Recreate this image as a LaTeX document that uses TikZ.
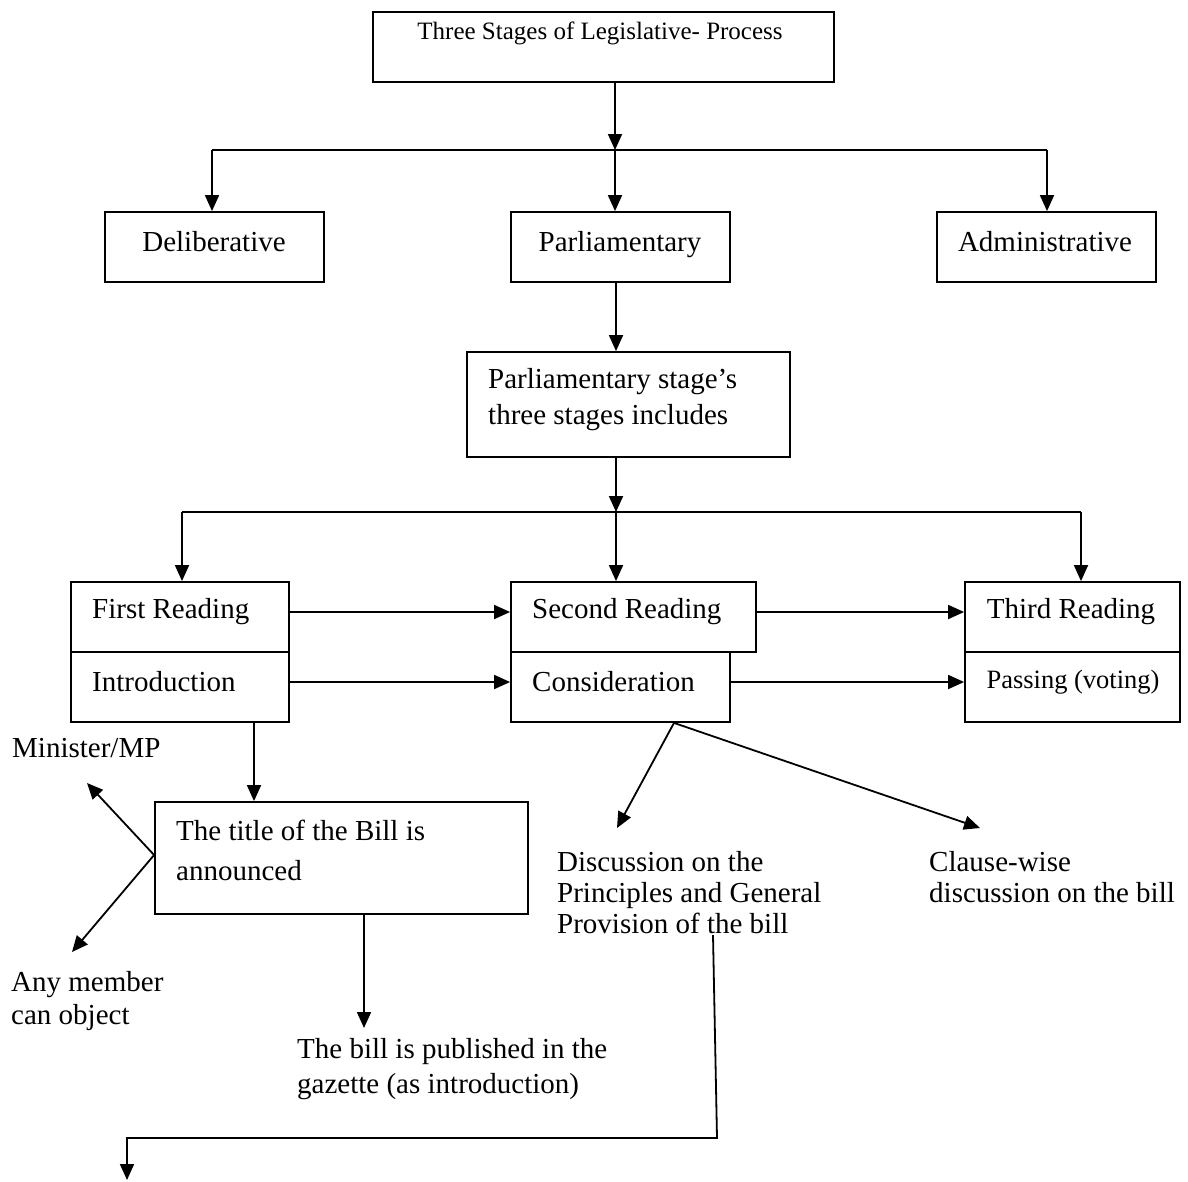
\documentclass[tikz,border=0pt]{standalone}
\usepackage{fontspec}
\setmainfont{Liberation Serif}
\usetikzlibrary{arrows.meta}
\begin{document}
\begin{tikzpicture}[x=1pt,y=-1pt,
  box/.style={draw,line width=1.8pt,inner sep=0pt},
  txt/.style={inner sep=0pt,font=\fontsize{29}{34}\selectfont,align=left},
  ln/.style={line width=1.8pt},
  arr/.style={line width=1.8pt,-{Triangle[length=16pt,width=14pt]}}]
\useasboundingbox (0,0) rectangle (1188,1181);
% top
\node[box,minimum width=461pt,minimum height=70pt] (title) at (603.5,47) {};
\node[txt,font=\fontsize{25}{30}\selectfont] (titletxt) at (600,33) {Three Stages of Legislative- Process};
\coordinate (h1m) at (615,150);
\coordinate (h1l) at (212,150);
\coordinate (h1r) at (1047,150);
\node[box,minimum width=219pt,minimum height=70pt] (del) at (214.5,247) {};
\node[txt] (deltxt) at (214,242) {Deliberative};
\node[box,minimum width=219pt,minimum height=70pt] (parl) at (620.5,247) {};
\node[txt] (parltxt) at (620,245) {Parliamentary};
\node[box,minimum width=219pt,minimum height=70pt] (adm) at (1046.5,247) {};
\node[txt] (admtxt) at (1045,242) {Administrative};
\draw[arr] (title.south -| h1m) -- (h1m);
\draw[ln] (h1l) -- (h1r);
\draw[arr] (h1l) -- (h1l |- del.north);
\draw[arr] (h1m) -- (h1m |- parl.north);
\draw[arr] (h1r) -- (h1r |- adm.north);
% parliamentary stage box
\node[box,minimum width=323pt,minimum height=105pt] (ps) at (628.5,404.5) {};
\node[txt,font=\fontsize{29}{36}\selectfont,anchor=west] (pstxt) at (488,400) {Parliamentary stage’s\\three stages includes};
\coordinate (h2m) at (616,512);
\coordinate (h2l) at (182,512);
\coordinate (h2r) at (1081,512);
\draw[arr] (parl.south -| h2m) -- (ps.north -| h2m);
\draw[arr] (ps.south -| h2m) -- (h2m);
\draw[ln] (h2l) -- (h2r);
% reading boxes
\node[box,minimum width=218pt,minimum height=70pt] (fr) at (180,617) {};
\node[box,minimum width=218pt,minimum height=70pt] (intro) at (180,687) {};
\node[box,minimum width=245pt,minimum height=70pt] (sr) at (633.5,617) {};
\node[box,minimum width=219pt,minimum height=70pt] (cons) at (620.5,687) {};
\node[box,minimum width=215pt,minimum height=70pt] (tr) at (1072.5,617) {};
\node[box,minimum width=215pt,minimum height=70pt] (pass) at (1072.5,687) {};
\node[txt,anchor=west] (frtxt) at (92,612) {First Reading};
\node[txt,anchor=west] (introtxt) at (92,682) {Introduction};
\node[txt,anchor=west] (srtxt) at (532,612) {Second Reading};
\node[txt,anchor=west] (constxt) at (532,682) {Consideration};
\node[txt] (trtxt) at (1071,612) {Third Reading};
\node[txt,font=\fontsize{26.5}{31}\selectfont] (passtxt) at (1073,682) {Passing (voting)};
\draw[arr] (h2l) -- (h2l |- fr.north);
\draw[arr] (h2m) -- (h2m |- sr.north);
\draw[arr] (h2r) -- (h2r |- tr.north);
\draw[arr] ([yshift=5pt]fr.east) -- ([yshift=5pt]fr.east -| sr.west);
\draw[arr] ([yshift=5pt]intro.east) -- ([yshift=5pt]intro.east -| cons.west);
\draw[arr] ([yshift=5pt]sr.east) -- ([yshift=5pt]sr.east -| tr.west);
\draw[arr] ([yshift=5pt]cons.east) -- ([yshift=5pt]cons.east -| pass.west);
% introduction branch
\node[box,minimum width=373pt,minimum height=112pt] (tb) at (341.5,858) {};
\node[txt,font=\fontsize{29}{40}\selectfont,anchor=west] (tbtxt) at (176,850) {The title of the Bill is\\announced};
\coordinate (x254) at (254,0);
\draw[arr] (intro.south -| x254) -- (tb.north -| x254);
\node[txt,anchor=west] (min) at (12,748) {Minister/MP};
\node[txt,font=\fontsize{29}{33}\selectfont,anchor=west] (any) at (11,1001.5) {Any member\\can object};
\coordinate (minTip) at (87,783);
\coordinate (anyTip) at (72,952);
\draw[arr] ([yshift=3pt]tb.west) -- (minTip);
\draw[arr] ([yshift=3pt]tb.west) -- (anyTip);
\coordinate (pubTip) at (364,1028);
\draw[arr] (tb.south -| pubTip) -- (pubTip);
\node[txt,font=\fontsize{29}{35}\selectfont,anchor=west] (pub) at (297,1069.5) {The bill is published in the\\gazette (as introduction)};
% consideration branch
\coordinate (discTip) at (617,828);
\coordinate (clauseTip) at (980,828);
\draw[arr] ([xshift=53.5pt]cons.south) -- (discTip);
\draw[arr] ([xshift=53.5pt]cons.south) -- (clauseTip);
\node[txt,font=\fontsize{29}{31}\selectfont,anchor=west] (disc) at (557,893) {Discussion on the\\Principles and General\\Provision of the bill};
\node[txt,font=\fontsize{29}{31}\selectfont,anchor=west] (clause) at (929,877.5) {Clause-wise\\discussion on the bill};
% bottom connector
\coordinate (b1) at (713,935);
\coordinate (b2) at (717,1138);
\coordinate (b3) at (127,1138);
\coordinate (b4) at (127,1180);
\draw[arr] (b1) -- (b2) -- (b3) -- (b4);
\end{tikzpicture}
\end{document}
